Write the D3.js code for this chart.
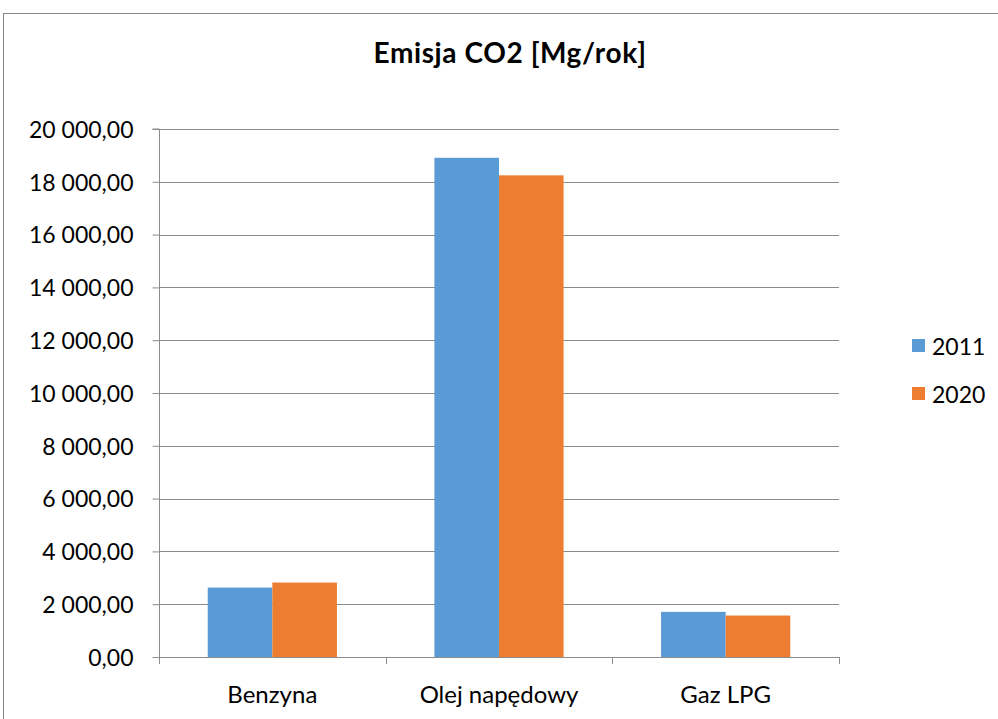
<!DOCTYPE html>
<html><head><meta charset="utf-8">
<script src="https://cdn.jsdelivr.net/npm/d3@7/dist/d3.min.js"></script>
<style>body{margin:0;background:#fff;}svg{display:block;}</style>
</head><body>
<svg id="c" width="998" height="719"></svg>
<script>
const categories = ["Benzyna", "Olej napędowy", "Gaz LPG"];
const seriesNames = ["2011", "2020"];
const values2011 = [2630, 18910, 1710];
const values2020 = [2820, 18245, 1570];
const yTicks = [0, 2000, 4000, 6000, 8000, 10000, 12000, 14000, 16000, 18000, 20000];
const colors = ["#5B9BD5", "#ED7D31"];
const title = "Emisja CO2 [Mg/rok]";

(function () {
const font = "Lato, 'Liberation Sans', sans-serif";
const svg = d3.select("#c");
// outer frame
svg.append("rect").attr("x", 3.5).attr("y", 13.5).attr("width", 1000).attr("height", 720)
  .attr("fill", "#fff").attr("stroke", "#888").attr("stroke-width", 1);

const pLeft = 159, pRight = 839, pTop = 129, pBottom = 657;
const xg = d3.scaleBand().domain(categories).range([pLeft, pRight]);
const groupPad = 0.215;
const y = d3.scaleLinear().domain([0, 20000]).range([pBottom, pTop]);

// gridlines
svg.append("g").selectAll("line").data(yTicks.filter(d => d > 0)).join("line")
  .attr("x1", pLeft).attr("x2", pRight).attr("y1", d => Math.round(y(d)) + 0.5).attr("y2", d => Math.round(y(d)) + 0.5)
  .attr("stroke", "#8c8c8c").attr("stroke-width", 1);

// bars
const xs = d3.scaleBand().domain(seriesNames)
  .range([xg.bandwidth() * groupPad, xg.bandwidth() * (1 - groupPad)]);
const data = [values2011, values2020];
categories.forEach((c, i) => {
  data.forEach((vals, s) => {
    svg.append("rect")
      .attr("x", xg(c) + xs(seriesNames[s]))
      .attr("width", xs.bandwidth())
      .attr("y", y(vals[i]))
      .attr("height", y(0) - y(vals[i]))
      .attr("fill", colors[s]);
  });
});

// y axis
const fmt = d => d3.format(",.2f")(d).replace(/,/g, " ").replace(".", ",");
const yAxis = d3.axisLeft(y).tickValues(yTicks).tickSize(7).tickPadding(19).tickFormat(fmt);
const ya = svg.append("g").attr("transform", `translate(${pLeft + 0.5},0)`).call(yAxis);
ya.selectAll("path").attr("stroke", "#8c8c8c").attr("d", `M-7,${pTop}H0V${pBottom}`);
ya.selectAll("line").attr("stroke", "#8c8c8c");
ya.selectAll("text").attr("font-family", font).attr("font-size", 23).attr("fill", "#000").attr("dy", "0.36em");

// x axis
const xAxis = d3.axisBottom(xg).tickSize(0).tickPadding(28);
const xa = svg.append("g").attr("transform", `translate(0,${pBottom + 0.5})`).call(xAxis);
xa.select("path").attr("stroke", "#8c8c8c").attr("d", `M${pLeft},0H${pRight}`);
xa.selectAll("text").attr("font-family", font).attr("font-size", 24).attr("fill", "#000");
const bounds = categories.map(c => xg(c)).concat([pRight]);
svg.append("g").selectAll("line").data(bounds).join("line")
  .attr("x1", d => Math.round(d) + 0.5).attr("x2", d => Math.round(d) + 0.5)
  .attr("y1", pBottom).attr("y2", pBottom + 7).attr("stroke", "#8c8c8c");

// title
svg.append("text").attr("x", 510).attr("y", 63).attr("text-anchor", "middle")
  .attr("font-family", font).attr("font-weight", "bold").attr("font-size", 28)
  .attr("letter-spacing", 0.6).text(title);

// legend
const lg = svg.append("g");
seriesNames.forEach((s, i) => {
  lg.append("rect").attr("x", 912).attr("y", 339 + i * 48).attr("width", 13).attr("height", 13).attr("fill", colors[i]);
  lg.append("text").attr("x", 932).attr("y", 355 + i * 48).attr("font-family", font).attr("font-size", 23).text(s);
});
})();
</script>
</body></html>
